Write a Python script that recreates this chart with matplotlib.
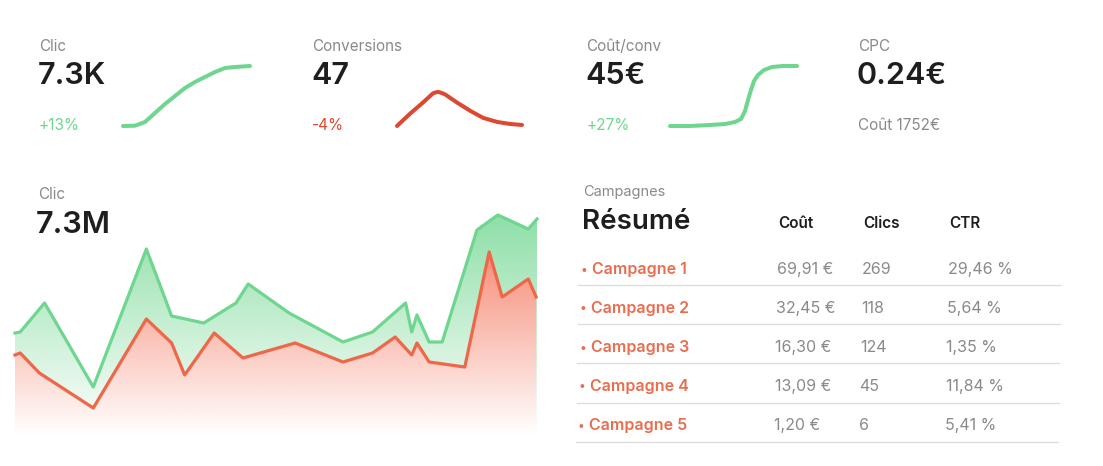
import matplotlib
matplotlib.use('Agg')
import matplotlib.pyplot as plt
import numpy as np
from matplotlib.colors import to_rgb
from matplotlib.patches import PathPatch

plt.rcParams['font.family'] = ['Inter', 'DejaVu Sans']

W, H = 1103, 466

# --- données ---
# cartes du haut
kpi_labels = ['Clic', 'Conversions', 'Coût/conv', 'CPC']
kpi_values = ['7.3K', '47', '45€', '0.24€']
kpi_changes = ['+13%', '-4%', '+27%', 'Coût 1752€']

# mini courbes (x = jours, y = valeur relative)
spark_clic_x = [0, 12, 22, 32, 42, 52, 62, 72, 82, 92, 102, 112, 127]
spark_clic_y = [0, 0.3, 4, 13, 22, 30, 38, 44, 49, 54, 58, 59, 60]
spark_conv_x = [0, 13, 26, 36, 39, 41, 43, 48, 60, 73, 86, 100, 113, 125]
spark_conv_y = [1, 13, 24, 33, 34, 34.3, 34, 32, 24, 16, 9, 5, 3, 2]
spark_cout_x = [0, 20, 40, 55, 65, 71, 75, 78, 81, 84, 88, 94, 102, 113, 127]
spark_cout_y = [0, 0, 1, 2, 4, 7, 15, 26, 36, 45, 51, 56, 59, 60, 60]

# graphique principal
clic_x = [0, 0.6, 3.4, 9.0, 15.1, 18.0, 21.7, 25.4, 26.8, 31.5, 37.7, 41.1,
          44.9, 45.6, 46.2, 47.6, 49.1, 53.1, 55.5, 59.0, 60]
clic_y = [102, 103, 132, 48, 186, 119, 112, 132, 151, 122, 93, 103,
          132, 103, 120, 93, 93, 205, 220, 206, 216]
conv_x = [0, 0.6, 2.8, 9.0, 15.1, 18.0, 19.5, 22.9, 26.2, 32.2, 37.7, 41.1,
          43.7, 45.6, 46.2, 47.6, 51.7, 54.5, 56.0, 59.0, 59.9]
conv_y = [80, 82, 62, 27, 116, 92, 60, 102, 77, 92, 73, 82,
          98, 80, 92, 73, 68, 183, 138, 156, 138]

# tableau
campagnes = ['Campagne 1', 'Campagne 2', 'Campagne 3', 'Campagne 4', 'Campagne 5']
couts = ['69,91 €', '32,45 €', '16,30 €', '13,09 €', '1,20 €']
clics = ['269', '118', '124', '45', '6']
ctr = ['29,46 %', '5,64 %', '1,35 %', '11,84 %', '5,41 %']

GREEN = '#6fd68f'
RED_LINE = '#ee6748'
DARK = '#1e1e1e'
GREY = '#8a8a8a'
ORANGE = '#e96d4f'

fig = plt.figure(figsize=(W / 100, H / 100), dpi=100)


def box(l, t, r, b):
    ax = fig.add_axes([l / W, 1 - b / H, (r - l) / W, (b - t) / H])
    ax.axis('off')
    return ax


# calque pour les textes (coordonnées pixels)
ax0 = fig.add_axes([0, 0, 1, 1])
ax0.set_xlim(0, W)
ax0.set_ylim(H, 0)
ax0.axis('off')

# cartes
card_x = [39, 312, 586, 858]
chg_colors = [GREEN, '#e0472f', GREEN, GREY]
for i in range(4):
    ax0.text(card_x[i], 51, kpi_labels[i], fontsize=11, color=GREY, va='baseline')
    ax0.text(card_x[i] - 1, 84, kpi_values[i], fontsize=22, color=DARK,
             fontweight='semibold', va='baseline')
    ax0.text(card_x[i], 130, kpi_changes[i], fontsize=11, color=chg_colors[i], va='baseline')


def spark(l, t, r, b, xs, ys, color):
    ax = box(l, t, r, b)
    ax.plot(xs, ys, color=color, lw=2.9, solid_capstyle='round',
            solid_joinstyle='round', clip_on=False)
    ax.set_xlim(min(xs), max(xs))
    ax.set_ylim(min(ys), max(ys))


spark(123, 66, 250, 126, spark_clic_x, spark_clic_y, GREEN)
spark(397, 92, 522, 126, spark_conv_x, spark_conv_y, '#dc4832')
spark(670, 66, 797, 126, spark_cout_x, spark_cout_y, GREEN)

# graphique principal
ax0.text(38, 199, 'Clic', fontsize=11, color=GREY, va='baseline')
ax0.text(36, 233, '7.3M', fontsize=22, color=DARK, fontweight='semibold', va='baseline')

ax = box(15, 210, 537, 435)
XMAX, YMAX = 60, 225


def gradient_fill(ax, xs, ys, color, a_top, z):
    poly = ax.fill_between(xs, ys, 0, facecolor='none', edgecolor='none')
    patch = PathPatch(poly.get_paths()[0], transform=ax.transData,
                      facecolor='none', edgecolor='none')
    ax.add_patch(patch)
    img = np.zeros((256, 1, 4))
    img[:, :, :3] = to_rgb(color)
    img[:, 0, 3] = np.linspace(0, a_top, 256)
    im = ax.imshow(img, aspect='auto', extent=[0, XMAX, 0, YMAX],
                   origin='lower', zorder=z)
    im.set_clip_path(patch)


gradient_fill(ax, clic_x, clic_y, '#6fd68f', 0.8, 1)
ax.fill_between(conv_x, conv_y, 0, facecolor='white', edgecolor='none', zorder=2)
gradient_fill(ax, conv_x, conv_y, '#f4674b', 0.92, 3)
ax.plot(clic_x, clic_y, color=GREEN, lw=2.3, solid_joinstyle='round', zorder=5, clip_on=False)
ax.plot(conv_x, conv_y, color=RED_LINE, lw=2.3, solid_joinstyle='round', zorder=6, clip_on=False)
ax.set_xlim(0, XMAX)
ax.set_ylim(0, YMAX)

# tableau des campagnes
ax0.text(583, 196, 'Campagnes', fontsize=10.5, color=GREY, va='baseline')
ax0.text(582, 229, 'Résumé', fontsize=20, color=DARK, fontweight='semibold', va='baseline')
for hx, h in zip([778, 863, 949], ['Coût', 'Clics', 'CTR']):
    ax0.text(hx, 228, h, fontsize=11, color=DARK, fontweight='semibold', va='baseline')

for i in range(5):
    yb = 274 + 39 * i
    ax0.text(580.5 - 0.7 * i, yb - 0.5, '•', fontsize=8.5, color=ORANGE, va='baseline')
    ax0.text(592 - 0.7 * i, yb, campagnes[i], fontsize=11.5, color=ORANGE,
             fontweight='semibold', va='baseline')
    ax0.text(777 - 0.8 * i, yb, couts[i], fontsize=11.5, color=GREY, va='baseline')
    ax0.text(862 - 0.8 * i, yb, clics[i], fontsize=11.5, color=GREY, va='baseline')
    ax0.text(948 - 0.8 * i, yb, ctr[i], fontsize=11.5, color=GREY, va='baseline')
    ax0.plot([578 - 0.5 * i, 1060 - 0.5 * i], [285 + 39.2 * i] * 2, color='#dcdcdc', lw=0.9)

fig.savefig('out.png', dpi=100)
